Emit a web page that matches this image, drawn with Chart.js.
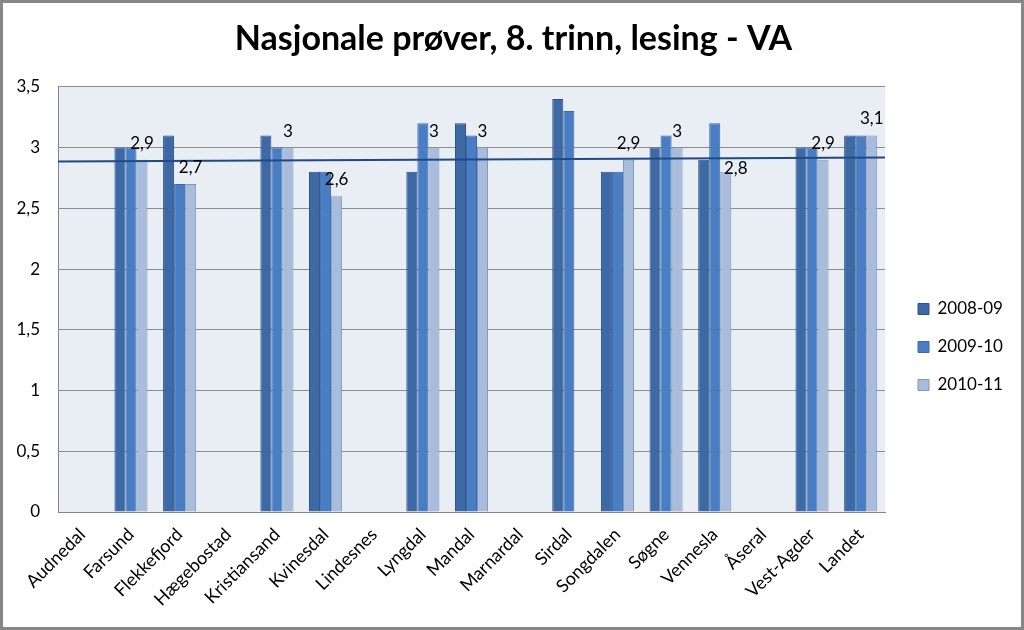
<!DOCTYPE html>
<html>
<head>
<meta charset="utf-8">
<script src="https://cdn.jsdelivr.net/npm/chart.js@4"></script>
<style>
    body { margin: 0; background: #fff; }
    #wrap { width: 1024px; height: 630px; box-sizing: border-box; border: 3px solid #878787; background: #fff; }
    canvas { display: block; }
</style>
</head>
<body>
<div id="wrap"><canvas id="chart" width="1018" height="624"></canvas></div>
<script>
const kommuner = ['Audnedal', 'Farsund', 'Flekkefjord', 'Hægebostad', 'Kristiansand', 'Kvinesdal',
    'Lindesnes', 'Lyngdal', 'Mandal', 'Marnardal', 'Sirdal', 'Songdalen', 'Søgne', 'Vennesla',
    'Åseral', 'Vest-Agder', 'Landet'];
const aar0809 = [null, 3.0, 3.1, null, 3.1, 2.8, null, 2.8, 3.2, null, 3.4, 2.8, 3.0, 2.9, null, 3.0, 3.1];
const aar0910 = [null, 3.0, 2.7, null, 3.0, 2.8, null, 3.2, 3.1, null, 3.3, 2.8, 3.1, 3.2, null, 3.0, 3.1];
const aar1011 = [null, 2.9, 2.7, null, 3.0, 2.6, null, 3.0, 3.0, null, null, 2.9, 3.0, 2.8, null, 2.9, 3.1];
// trendlinje, verdi ved venstre og høyre kant av plottet
const trend = [2.885, 2.918];
const yTicks = [0, 0.5, 1, 1.5, 2, 2.5, 3, 3.5];

const FONT = 'Lato, "Open Sans", sans-serif';
const komma = v => String(v).replace('.', ',');

// etiketten for Vennesla er flyttet for hånd i originalen
const labelShift = { 13: [10, 13] };

const plotBg = {
    id: 'plotBg',
    beforeDraw(chart) {
        const { ctx, chartArea: a } = chart;
        ctx.save();
        ctx.fillStyle = '#e9edf4';
        ctx.fillRect(a.left, a.top, a.right - a.left, a.bottom - a.top);
        ctx.restore();
    }
};

const trendLinje = {
    id: 'trendLinje',
    afterDatasetsDraw(chart) {
        const { ctx, chartArea: a } = chart;
        const y = chart.scales.y;
        ctx.save();
        ctx.strokeStyle = '#1f4a85';
        ctx.lineWidth = 2;
        ctx.beginPath();
        ctx.moveTo(a.left, y.getPixelForValue(trend[0]));
        ctx.lineTo(a.right, y.getPixelForValue(trend[1]));
        ctx.stroke();
        ctx.restore();
    }
};

const verdiEtiketter = {
    id: 'verdiEtiketter',
    afterDatasetsDraw(chart) {
        const ctx = chart.ctx;
        const meta = chart.getDatasetMeta(2);
        ctx.save();
        ctx.font = '17px ' + FONT;
        ctx.fillStyle = '#000';
        ctx.textAlign = 'center';
        ctx.textBaseline = 'alphabetic';
        meta.data.forEach((bar, i) => {
            const v = aar1011[i];
            if (v === null) return;
            const s = labelShift[i] || [0, 0];
            ctx.fillText(komma(v), bar.x + s[0], bar.y - 11 + s[1]);
        });
        ctx.restore();
    }
};

// legenden: fast bredde, og flyttes litt bort fra plottet
const legendePlass = {
    id: 'legendePlass',
    afterInit(chart) {
        const lg = chart.legend;
        const fit = lg.fit.bind(lg);
        lg.fit = function () {
            fit();
            this.width = 136;
        };
    },
    afterLayout(chart) {
        const lg = chart.legend;
        lg.left += 12;
        lg.right += 12;
        lg.top += 32;
        lg.bottom += 32;
    }
};

new Chart(document.getElementById('chart'), {
    type: 'bar',
    data: {
        labels: kommuner,
        datasets: [
            {
                label: '2008-09',
                data: aar0809,
                backgroundColor: '#3d69a5',
                borderColor: '#2c5286',
                borderWidth: 1
            },
            {
                label: '2009-10',
                data: aar0910,
                backgroundColor: '#4a7ec4',
                borderColor: '#3a6aa8',
                borderWidth: 1
            },
            {
                label: '2010-11',
                data: aar1011,
                backgroundColor: '#a9bcdc',
                borderColor: '#7f97c0',
                borderWidth: 1
            }
        ]
    },
    options: {
        responsive: false,
        animation: false,
        layout: { padding: { left: 3, right: 0, top: 0, bottom: 0 } },
        datasets: { bar: { barPercentage: 1, categoryPercentage: 0.68 } },
        scales: {
            x: {
                grid: { display: false },
                border: { color: '#868686', width: 1 },
                afterFit: s => { s.paddingLeft = 0; s.paddingRight = 0; s.height = 115; },
                ticks: {
                    color: '#000',
                    font: { family: FONT, size: 18 },
                    maxRotation: 45,
                    minRotation: 45,
                    autoSkip: false,
                    padding: 4
                }
            },
            y: {
                min: 0,
                max: 3.5,
                afterBuildTicks: axis => { axis.ticks = yTicks.map(v => ({ value: v })); },
                afterFit: s => { s.width = 52; },
                grid: { color: '#8c8c8c', drawTicks: false },
                border: { color: '#868686', width: 1 },
                ticks: {
                    color: '#000',
                    font: { family: FONT, size: 17 },
                    padding: 18,
                    callback: v => komma(v)
                }
            }
        },
        plugins: {
            title: {
                display: true,
                text: 'Nasjonale prøver, 8. trinn, lesing - VA',
                color: '#000',
                font: { family: FONT, size: 34, weight: 'bold' },
                padding: { top: 16, bottom: 27 }
            },
            legend: {
                position: 'right',
                labels: {
                    color: '#000',
                    font: { family: FONT, size: 17 },
                    boxWidth: 11,
                    boxHeight: 11,
                    padding: 21
                }
            },
            tooltip: { enabled: false }
        }
    },
    plugins: [plotBg, trendLinje, verdiEtiketter, legendePlass]
});
</script>
</body>
</html>
